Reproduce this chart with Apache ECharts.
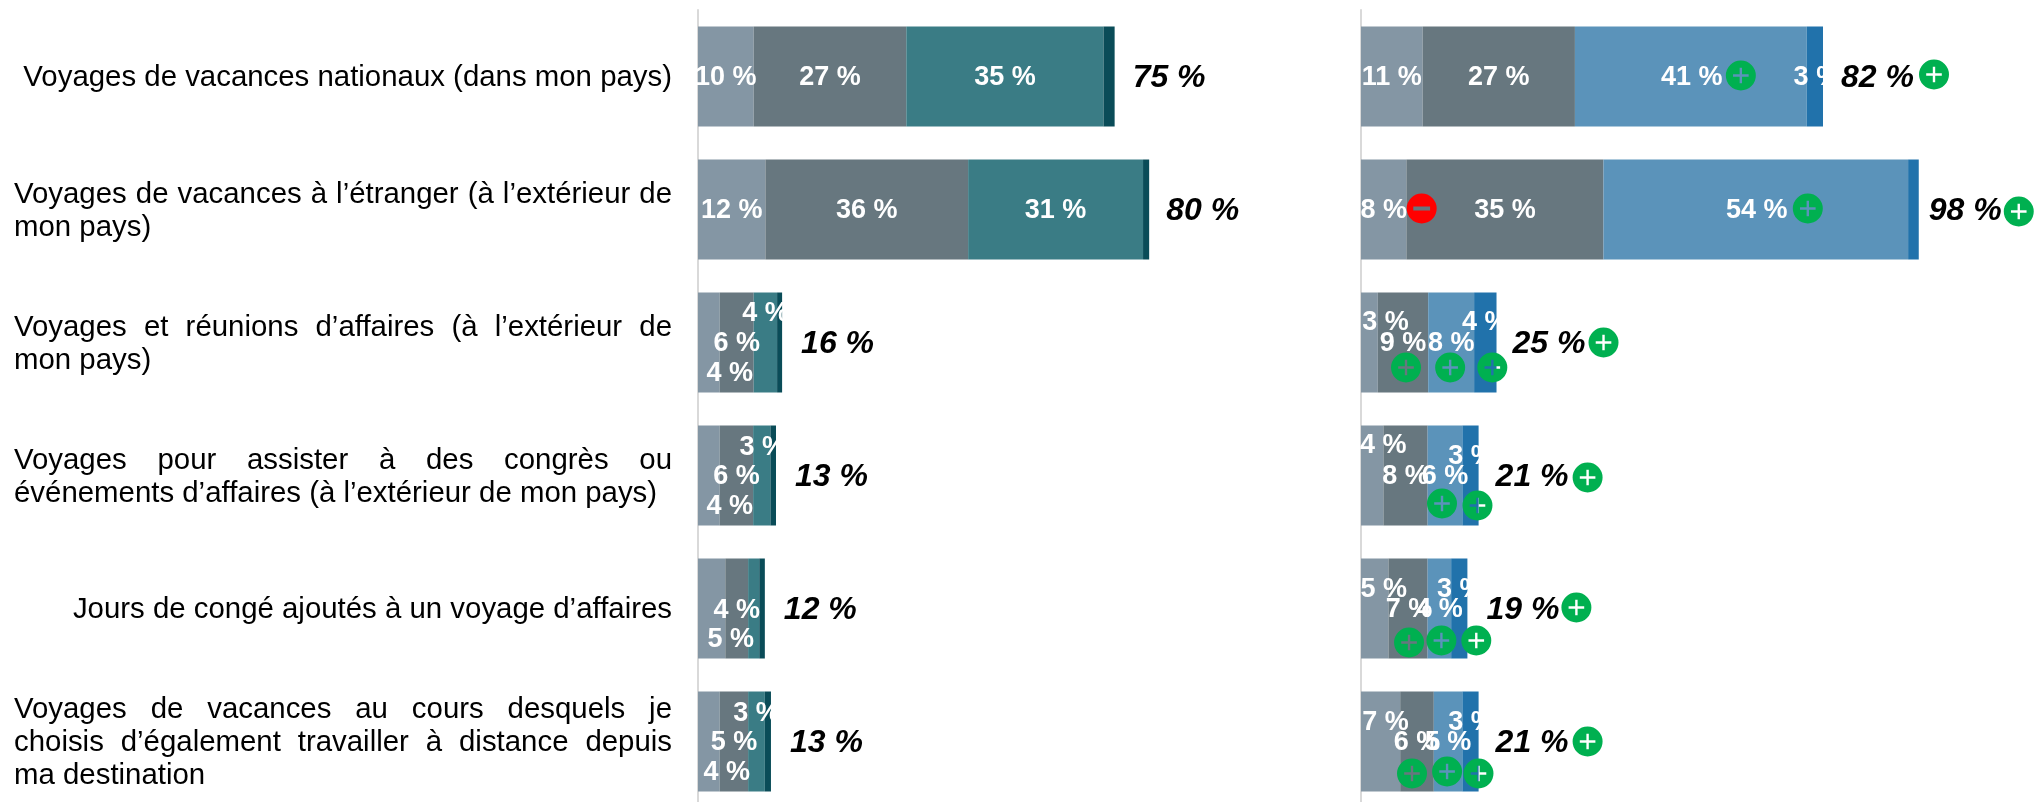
<!DOCTYPE html>
<html>
<head>
    <meta charset="utf-8">
    <title>Voyages</title>
    <script src="https://cdn.jsdelivr.net/npm/echarts@6/dist/echarts.min.js"></script>
    <style>
        html,body{margin:0;padding:0;background:#fff;}
    </style>
</head>
<body>
<div id="main" style="width:2036px;height:802px;"></div>
<script type="text/javascript">
    var categories = [
        'Voyages de vacances nationaux (dans mon pays)',
        'Voyages de vacances à l’étranger (à l’extérieur de\nmon pays)',
        'Voyages et réunions d’affaires (à l’extérieur de\nmon pays)',
        'Voyages pour assister à des congrès ou\névénements d’affaires (à l’extérieur de mon pays)',
        'Jours de congé ajoutés à un voyage d’affaires',
        'Voyages de vacances au cours desquels je\nchoisis d’également travailler à distance depuis\nma destination'
    ];

    // valeurs
    var leftA = [10, 12.1, 3.9, 3.9, 4.9, 3.9];
    var leftB = [27.4, 36.4, 6.1, 6, 4.1, 5.1];
    var leftC = [35.4, 31.4, 4.2, 3.1, 2, 3];
    var leftD = [2, 1.1, 0.9, 1, 1, 1.1];
    var leftTotals = [75, 80, 16, 13, 12, 13];

    var rightA = [11, 8.1, 3, 4, 4.9, 7];
    var rightB = [27.2, 35.2, 9, 7.9, 7, 6];
    var rightC = [41.4, 54.4, 8.2, 6.2, 4.2, 5.1];
    var rightD = [2.9, 1.9, 4, 2.9, 2.9, 2.9];
    var rightTotals = [82, 98, 25, 21, 19, 21];

    // + / - significatifs
    var marksA = ['', '-', '', '', '', ''];
    var marksB = ['', '', '+', '', '+', '+'];
    var marksC = ['+', '+', '+', '+', '+', '+'];
    var marksD = ['', '', '+', '+', '+', '+'];
    var marksTotal = ['+', '+', '+', '+', '+', '+'];

    // décalages des étiquettes (px), pas des données
    var leftLabelShift = [
        [[0,1],[0,1],[21,31],[21,31],[19,31],[18,31]],
        [[0,1],[0,1],[0,1],[0,1],[0,2],[0,1]],
        [[0,1],[0,1],[0,-29],[1,-28],[0,1],[0,-28]],
        [[0,0],[0,0],[0,0],[0,0],[0,0],[0,0]]
    ];
    var rightLabelShift = [
        [[0,1],[0,1],[16,-20],[11,-30],[9,-19],[5,-19]],
        [[0,1],[0,1],[0,1],[0,1],[1,1],[0,1]],
        [[1,1],[1,1],[0,1],[0,1],[0,1],[0,1]],
        [[2,1],[0,1],[0,-20],[1,-19],[1,-19],[1,-19]]
    ];
    var markShift = [
        [[0,0],[38,-1],[0,0],[0,0],[0,0],[0,0]],
        [[0,0],[0,0],[3,25],[0,0],[1,34],[-5,32]],
        [[50,-1],[52,-1],[-1,25],[-3,28],[2,32],[-1,30]],
        [[0,0],[0,0],[7,25],[7,30],[17,32],[8,32]]
    ];
    var totalMarkShift = [[111,-2],[100,2],[107,0],[109,2],[109,-1],[109,0]];
    var leftTotalGap = [18,17,19,19,19,19];
    var rightTotalGap = [18,10,16,17,19,17];

    var FONT = '"Liberation Sans", Arial, sans-serif';
    var CAT_SIZE = 29.4, CAT_WIDTH = 658;
    var PLUS = 'path://M50 0A50 50 0 1 1 50 100A50 50 0 1 1 50 0ZM46 24L46 46L24 46L24 54L46 54L46 76L54 76L54 54L76 54L76 46L54 46L54 24Z';
    var MINUS = 'path://M50 0A50 50 0 1 1 50 100A50 50 0 1 1 50 0ZM22 43L22 57L78 57L78 43Z';

    var ctx = document.createElement('canvas').getContext('2d');
    ctx.font = CAT_SIZE + 'px ' + FONT;

    // le texte d'origine est justifié : on construit les lignes avec des espaces de largeur calculée
    var catRich = {w: {fontSize: CAT_SIZE, fontFamily: FONT, color: '#000', lineHeight: 33}};
    function spacer(width) {
        var key = 's' + Math.round(width * 10);
        catRich[key] = {width: width, fontSize: CAT_SIZE, lineHeight: 33};
        return '{' + key + '| }';
    }
    function buildCat(text) {
        var lines = text.split('\n');
        var out = [];
        for (var i = 0; i < lines.length; i++) {
            if (lines.length == 1) {
                out.push('{w|' + lines[i] + '}');
            } else if (i == lines.length - 1) {
                out.push('{w|' + lines[i] + '}' + spacer(CAT_WIDTH - ctx.measureText(lines[i]).width));
            } else {
                var words = lines[i].split(' ');
                var used = 0;
                for (var j = 0; j < words.length; j++) used += ctx.measureText(words[j]).width;
                var gap = (CAT_WIDTH - used) / (words.length - 1);
                var s = '';
                for (var k = 0; k < words.length; k++) {
                    s += '{w|' + words[k] + '}';
                    if (k < words.length - 1) s += spacer(gap);
                }
                out.push(s);
            }
        }
        return out.join('\n');
    }
    var catLabels = {};
    for (var c = 0; c < categories.length; c++) catLabels[categories[c]] = buildCat(categories[c]);

    function barSeries(name, values, color, shift, axisIndex, stack) {
        var data = [];
        for (var i = 0; i < values.length; i++) {
            data.push({
                value: values[i],
                label: {offset: shift[i]}
            });
        }
        return {
            name: name,
            type: 'bar',
            stack: stack,
            xAxisIndex: axisIndex,
            yAxisIndex: axisIndex,
            barWidth: 100,
            data: data,
            itemStyle: {color: color, borderWidth: 0},
            label: {
                show: true,
                position: 'inside',
                color: '#fff',
                fontFamily: FONT,
                fontWeight: 'bold',
                fontSize: 27,
                formatter: function (p) {
                    return p.value < 2.5 ? '' : Math.round(p.value) + ' %';
                }
            },
            silent: true,
            z: 2
        };
    }

    function sums(list) {
        var r = [];
        for (var i = 0; i < list[0].length; i++) {
            var t = 0;
            for (var j = 0; j < list.length; j++) t += list[j][i];
            r.push(t);
        }
        return r;
    }

    function totalSeries(list, totals, gaps, axisIndex) {
        var ends = sums(list);
        var data = [];
        for (var i = 0; i < ends.length; i++) {
            data.push({
                value: [ends[i], i],
                label: {offset: [gaps[i], 2], formatter: totals[i] + ' %'}
            });
        }
        return {
            type: 'scatter',
            xAxisIndex: axisIndex,
            yAxisIndex: axisIndex,
            symbolSize: 0,
            itemStyle: {color: '#000', opacity: 1},
            data: data,
            label: {
                show: true,
                position: 'right',
                distance: 0,
                color: '#000',
                opacity: 1,
                fontFamily: FONT,
                fontWeight: 'bold',
                fontStyle: 'italic',
                fontSize: 32
            },
            silent: true,
            z: 4
        };
    }

    function markPoint(x, row, sign, shift) {
        return {
            value: [x, row],
            symbol: sign == '-' ? MINUS : PLUS,
            symbolOffset: shift,
            itemStyle: {color: sign == '-' ? '#FF0000' : '#00B050', opacity: 1}
        };
    }

    function markSeries() {
        var segs = [rightA, rightB, rightC, rightD];
        var marks = [marksA, marksB, marksC, marksD];
        var data = [];
        for (var r = 0; r < categories.length; r++) {
            var cum = 0;
            for (var s = 0; s < segs.length; s++) {
                if (marks[s][r]) data.push(markPoint(cum + segs[s][r] / 2, r, marks[s][r], markShift[s][r]));
                cum += segs[s][r];
            }
            if (marksTotal[r]) data.push(markPoint(cum, r, marksTotal[r], totalMarkShift[r]));
        }
        return {
            type: 'scatter',
            xAxisIndex: 1,
            yAxisIndex: 1,
            symbolSize: 30,
            data: data,
            silent: true,
            z: 5
        };
    }

    var myChart = echarts.init(document.getElementById('main'));
    var axisLine = {show: true, lineStyle: {color: '#D9D9D9', width: 2}};
    var option = {
        animation: false,
        backgroundColor: '#fff',
        grid: [
            {left: 698, top: 10, width: 557, height: 798, outerBoundsMode: 'none'},
            {left: 1361, top: 10, width: 560, height: 798, outerBoundsMode: 'none'}
        ],
        xAxis: [
            {gridIndex: 0, type: 'value', min: 0, max: 100, show: false},
            {gridIndex: 1, type: 'value', min: 0, max: 100, show: false}
        ],
        yAxis: [
            {
                gridIndex: 0,
                type: 'category',
                inverse: true,
                data: categories,
                axisLine: axisLine,
                axisTick: {show: false},
                axisLabel: {
                    margin: 26,
                    interval: 0,
                    align: 'right',
                    padding: [3, 0, 0, 0],
                    fontFamily: FONT,
                    fontSize: CAT_SIZE,
                    color: '#000',
                    formatter: function (v) { return catLabels[v]; },
                    rich: catRich
                }
            },
            {
                gridIndex: 1,
                type: 'category',
                inverse: true,
                data: categories,
                axisLine: axisLine,
                axisTick: {show: false},
                axisLabel: {show: false}
            }
        ],
        series: [
            barSeries('A', leftA, '#8496A4', leftLabelShift[0], 0, 'left'),
            barSeries('B', leftB, '#67777F', leftLabelShift[1], 0, 'left'),
            barSeries('C', leftC, '#3A7C85', leftLabelShift[2], 0, 'left'),
            barSeries('D', leftD, '#0A4C58', leftLabelShift[3], 0, 'left'),
            totalSeries([leftA, leftB, leftC, leftD], leftTotals, leftTotalGap, 0),
            barSeries('A', rightA, '#8496A4', rightLabelShift[0], 1, 'right'),
            barSeries('B', rightB, '#67777F', rightLabelShift[1], 1, 'right'),
            barSeries('C', rightC, '#5B93BA', rightLabelShift[2], 1, 'right'),
            barSeries('D', rightD, '#2172AB', rightLabelShift[3], 1, 'right'),
            totalSeries([rightA, rightB, rightC, rightD], rightTotals, rightTotalGap, 1),
            markSeries()
        ]
    };
    myChart.setOption(option);
</script>
</body>
</html>
